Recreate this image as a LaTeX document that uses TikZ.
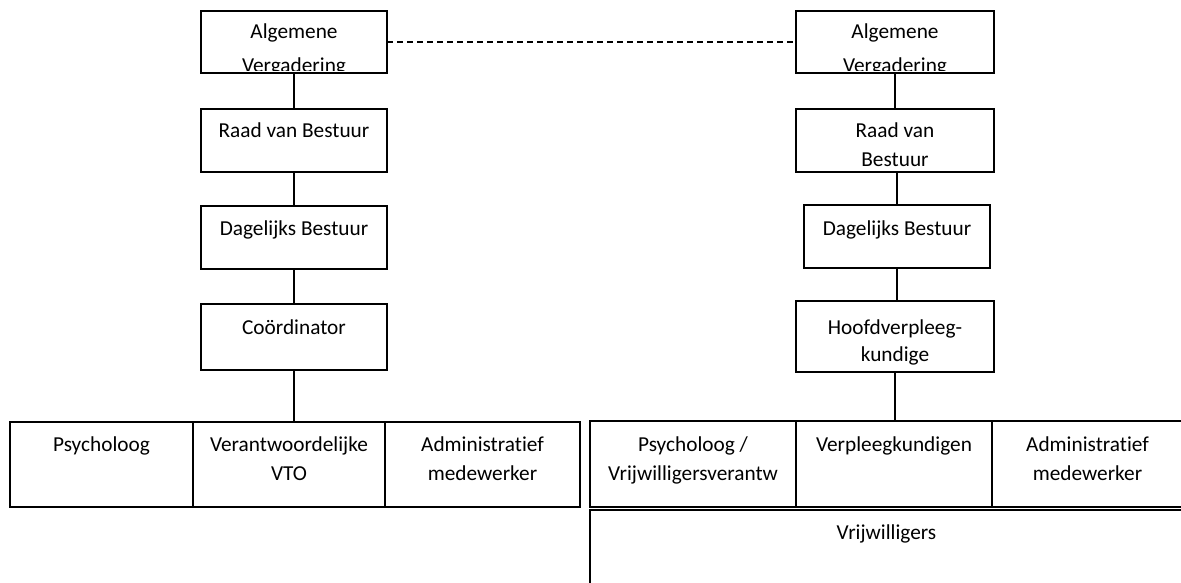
\documentclass[tikz,border=0pt]{standalone}
\usepackage{fontspec}
\setmainfont[Ligatures=NoCommon]{Carlito}
\begin{document}
\begin{tikzpicture}[x=1pt,y=-1pt,
  box/.style={draw, line width=1.5pt, rectangle, inner sep=0pt, outer sep=0pt},
  txt/.style={font=\fontsize{21.3pt}{29pt}\selectfont, inner sep=0pt, anchor=base},
  link/.style={line width=1.5pt},
  dashlink/.style={line width=1.5pt, dash pattern=on 6pt off 4pt}]
\useasboundingbox (0,0) rectangle (1181,583);
% ---------- left column ----------
\node[box, minimum width=186, minimum height=62] (lav) at (294,42) {};
\begin{scope}
  \clip (202,12) rectangle (386,71);
  \node[txt] (lavt1) at (294,38.5) {Algemene};
  \node[txt] (lavt2) at (294,72.5) {Vergadering};
\end{scope}
\node[box, minimum width=186, minimum height=63] (lrvb) at (294,140.5) {};
\node[txt] (lrvbt) at (294,138) {Raad van Bestuur};
\node[box, minimum width=186, minimum height=63] (ldb) at (294,237.5) {};
\node[txt] (ldbt) at (294,235) {Dagelijks Bestuur};
\node[box, minimum width=186, minimum height=66] (lco) at (294,337) {};
\node[txt] (lcot) at (294,334) {Coördinator};
% left bottom row
\node[box, minimum width=183, minimum height=85] (lpsy) at (101.5,464.5) {};
\node[box, minimum width=192, minimum height=85] (lvto) at (289,464.5) {};
\node[box, minimum width=195, minimum height=85] (ladm) at (482.5,464.5) {};
\node[txt] (lpsyt) at (101.5,451) {Psycholoog};
\node[txt] (lvtot1) at (289,451) {Verantwoordelijke};
\node[txt] (lvtot2) at (289,480) {VTO};
\node[txt] (ladmt1) at (482.5,451) {Administratief};
\node[txt] (ladmt2) at (482.5,480) {medewerker};
% ---------- right column ----------
\node[box, minimum width=198, minimum height=62] (rav) at (895,42) {};
\begin{scope}
  \clip (797,12) rectangle (993,71);
  \node[txt] (ravt1) at (895,38.5) {Algemene};
  \node[txt] (ravt2) at (895,72.5) {Vergadering};
\end{scope}
\node[box, minimum width=198, minimum height=63] (rrvb) at (895,140.5) {};
\node[txt] (rrvbt1) at (895,138) {Raad van};
\node[txt] (rrvbt2) at (895,167) {Bestuur};
\node[box, minimum width=186, minimum height=63] (rdb) at (897,236.5) {};
\node[txt] (rdbt) at (897,235) {Dagelijks Bestuur};
\node[box, minimum width=198, minimum height=71] (rhv) at (895,336.5) {};
\node[txt] (rhvt1) at (895,334) {Hoofdverpleeg-};
\node[txt] (rhvt2) at (895,361) {kundige};
% right bottom row
\node[box, minimum width=206, minimum height=86] (rpsy) at (693,464) {};
\node[box, minimum width=196, minimum height=86] (rvpk) at (894,464) {};
\node[box, minimum width=191, minimum height=86] (radm) at (1087.5,464) {};
\node[txt] (rpsyt1) at (693,451) {Psycholoog /};
\node[txt] (rpsyt2) at (693,480) {Vrijwilligersverantw};
\node[txt] (rvpkt) at (894,451) {Verpleegkundigen};
\node[txt] (radmt1) at (1087.5,451) {Administratief};
\node[txt] (radmt2) at (1087.5,480) {medewerker};
\node[box, minimum width=593, minimum height=80] (rvrij) at (886.5,550) {};
\node[txt] (rvrijt) at (886.5,539) {Vrijwilligers};
% ---------- connectors ----------
\draw[link] (lav.south) -- (lrvb.north);
\draw[link] (lrvb.south) -- (ldb.north);
\draw[link] (ldb.south) -- (lco.north);
\draw[link] (lco.south) -- (lco.south |- lvto.north);
\draw[link] (rav.south) -- (rrvb.north);
\draw[link] (rdb.north) -- (rdb.north |- rrvb.south);
\draw[link] (rdb.south) -- (rdb.south |- rhv.north);
\draw[link] (rhv.south) -- (rhv.south |- rvpk.north);
\draw[dashlink] (lav.east) -- (rav.west);
\end{tikzpicture}
\end{document}
